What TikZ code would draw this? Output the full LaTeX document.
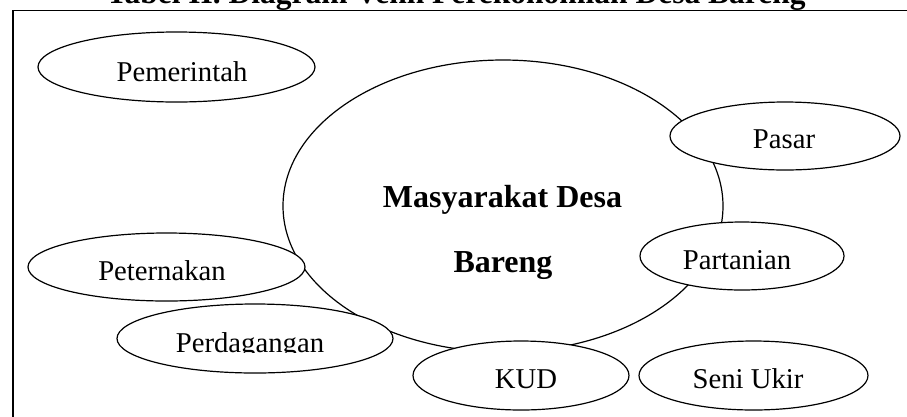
\documentclass[tikz,border=0pt]{standalone}
\usepackage{fontspec}
\setmainfont{Liberation Serif}
\usetikzlibrary{shapes.geometric}
\begin{document}
\begin{tikzpicture}[x=1pt,y=-1pt,
  oval/.style={draw, ellipse, line width=1.2pt, inner sep=0pt, outer sep=0pt},
  smalloval/.style={oval, fill=white},
  lbl/.style={anchor=base, inner sep=0pt, font={\fontsize{28.7}{34}\selectfont}},
  blbl/.style={anchor=base, inner sep=0pt, font={\fontsize{32}{38}\selectfont\bfseries}}
]
\useasboundingbox (0,0) rectangle (907,416);
\clip (0,0) rectangle (907,416);
% title (cut off at the top)
\node[blbl, font={\fontsize{31.5}{38}\selectfont\bfseries}] (title) at (456,3) {Tabel II. Diagram Venn Perekonomian Desa Bareng};
% frame
\draw[line width=1.6pt] (13,10.5) rectangle (930,440);
% big ellipse
\node[oval, minimum width=440pt, minimum height=292pt] (mas) at (503,206) {};
% small ellipses
\node[smalloval, minimum width=277pt, minimum height=70pt] (pem) at (176.5,67) {};
\node[smalloval, minimum width=230pt, minimum height=68pt] (pas) at (785,136) {};
\node[smalloval, minimum width=277pt, minimum height=68pt] (pet) at (166.5,267) {};
\node[smalloval, minimum width=276pt, minimum height=69pt] (per) at (255,338.5) {};
\node[smalloval, minimum width=204pt, minimum height=68pt] (par) at (742,256) {};
\node[smalloval, minimum width=216pt, minimum height=69pt] (kud) at (521,375.5) {};
\node[smalloval, minimum width=229pt, minimum height=69pt] (sen) at (753.5,375.5) {};
% labels
\node[lbl] (tpem) at (182,81) {Pemerintah};
\node[lbl] (tpas) at (784,148.3) {Pasar};
\node[blbl] (tmas) at (502.5,207) {Masyarakat Desa};
\node[blbl] (tbar) at (503,272) {Bareng};
\node[lbl] (tpet) at (162,280) {Peternakan};
\begin{scope}
\clip (100,300) rectangle (400,352.5);
\node[lbl] (tper) at (250,352) {Perdagangan};
\end{scope}
\node[lbl] (tpar) at (737,269.3) {Partanian};
\node[lbl] (tkud) at (526,388.3) {KUD};
\node[lbl] (tsen) at (748,388.3) {Seni Ukir};
\end{tikzpicture}
\end{document}
